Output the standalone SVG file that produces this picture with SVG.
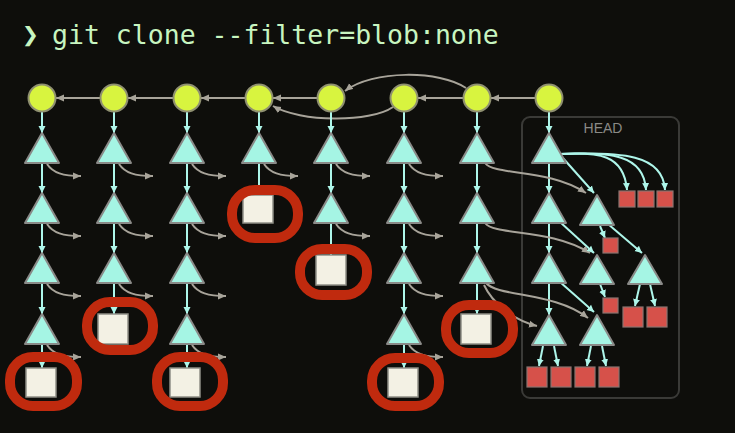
<svg xmlns="http://www.w3.org/2000/svg" width="735" height="433" viewBox="0 0 735 433">
<style>
.bg{fill:#0e0e0b}
.title{font-family:"DejaVu Sans Mono","Liberation Mono",monospace;font-size:26.5px;fill:#c8f5c0}
.chev{font-weight:bold;font-size:28px}
.commit{fill:#d8f43f;stroke:#8f9070;stroke-width:2}
.tree{fill:#a5f5e4;stroke:#8a8a88;stroke-width:2;stroke-linejoin:round}
.blob{fill:#f3f1e4;stroke:#8f8e86;stroke-width:1.5}
.ring{fill:none;stroke:#c02a0e;stroke-width:10}
.red{fill:#d6514a;stroke:#8a7470;stroke-width:1.2}
.cy{fill:none;stroke:#aef6ea;stroke-width:2;marker-end:url(#ac)}
.gr{fill:none;stroke:#a8a49a;stroke-width:2;marker-end:url(#ag)}
.headbox{fill:none;stroke:#3a3a37;stroke-width:2}
.headlbl{font-family:"Liberation Sans",Arial,sans-serif;font-size:14px;fill:#8a8a86}
</style>
<defs>
<marker id="ac" markerUnits="userSpaceOnUse" markerWidth="8" markerHeight="8" refX="7" refY="4" orient="auto"><path d="M0,0.5 L7,4 L0,7.5 z" fill="#aef6ea"/></marker>
<marker id="ag" markerUnits="userSpaceOnUse" markerWidth="9" markerHeight="8" refX="8" refY="4" orient="auto"><path d="M0,0.5 L8,4 L0,7.5 z" fill="#a8a49a"/></marker>
</defs>
<rect class="bg" x="0" y="0" width="735" height="433"/>
<text class="title" y="44"><tspan class="chev" x="22">❯</tspan><tspan x="52">git clone --filter=blob:none</tspan></text>

<g id="head">
<rect class="headbox" x="522" y="117" width="157" height="281" rx="8"/>
<text class="headlbl" x="603" y="133" text-anchor="middle">HEAD</text>
</g>

<g id="connectors">
<path class="gr" d="M535,98 L491,98"/>
<path class="gr" d="M463,98 L418,98"/>
<path class="gr" d="M317,98 L273,98"/>
<path class="gr" d="M245,98 L201,98"/>
<path class="gr" d="M173,98 L128,98"/>
<path class="gr" d="M100,98 L56,98"/>
<path class="gr" d="M466,88 C440,70 372,70 345,91"/>
<path class="gr" d="M393,107 C370,123 300,122 273,106"/>

<path class="cy" d="M42,112 L42,133"/><path class="cy" d="M42,163 L42,193"/><path class="cy" d="M42,223 L42,253"/><path class="cy" d="M42,283 L42,314"/><path class="cy" d="M42,344 L42,368"/>
<path class="cy" d="M114,112 L114,133"/><path class="cy" d="M114,163 L114,193"/><path class="cy" d="M114,223 L114,253"/><path class="cy" d="M114,283 L114,314"/>
<path class="cy" d="M187,112 L187,133"/><path class="cy" d="M187,163 L187,193"/><path class="cy" d="M187,223 L187,253"/><path class="cy" d="M187,283 L187,314"/><path class="cy" d="M187,344 L187,368"/>
<path class="cy" d="M259,112 L259,133"/><path class="cy" d="M259,163 L259,195"/>
<path class="cy" d="M331,112 L331,133"/><path class="cy" d="M331,163 L331,193"/><path class="cy" d="M331,223 L331,255"/>
<path class="cy" d="M404,112 L404,133"/><path class="cy" d="M404,163 L404,193"/><path class="cy" d="M404,223 L404,253"/><path class="cy" d="M404,283 L404,314"/><path class="cy" d="M404,344 L404,368"/>
<path class="cy" d="M477,112 L477,133"/><path class="cy" d="M477,163 L477,193"/><path class="cy" d="M477,223 L477,253"/><path class="cy" d="M477,283 L477,314"/>
<path class="cy" d="M549,112 L549,133"/><path class="cy" d="M549,163 L549,193"/><path class="cy" d="M549,223 L549,253"/><path class="cy" d="M549,283 L549,315"/>

<path class="gr" d="M47,164 C53,173 63,176 81,176"/><path class="gr" d="M47,224 C53,233 63,236 81,236"/><path class="gr" d="M47,284 C53,293 63,296 81,296"/><path class="gr" d="M47,345 C53,354 63,357 81,357"/>
<path class="gr" d="M119,164 C125,173 135,176 153,176"/><path class="gr" d="M119,224 C125,233 135,236 153,236"/><path class="gr" d="M119,284 C125,293 135,296 153,296"/>
<path class="gr" d="M192,164 C198,173 208,176 226,176"/><path class="gr" d="M192,224 C198,233 208,236 226,236"/><path class="gr" d="M192,284 C198,293 208,296 226,296"/><path class="gr" d="M192,345 C198,354 208,357 226,357"/>
<path class="gr" d="M264,164 C270,173 280,176 298,176"/>
<path class="gr" d="M336,164 C342,173 352,176 370,176"/><path class="gr" d="M336,224 C342,233 352,236 370,236"/>
<path class="gr" d="M409,164 C415,173 425,176 443,176"/><path class="gr" d="M409,224 C415,233 425,236 443,236"/><path class="gr" d="M409,284 C415,293 425,296 443,296"/><path class="gr" d="M409,345 C415,354 425,357 443,357"/>
<path class="gr" d="M485,163 C495,176 548,168 586,193"/>
<path class="gr" d="M485,223 C495,236 550,228 590,253"/>
<path class="gr" d="M486,283 C498,297 555,292 588,318"/>
<path class="gr" d="M484,285 C492,302 512,320 537,326"/>

<path class="cy" d="M562,157 L594,193"/>
<path class="cy" d="M560,154 C598,152 624,154 627,190"/>
<path class="cy" d="M560,154 C610,152 644,154 646,190"/>
<path class="cy" d="M560,154 C622,152 663,154 665,190"/>
<path class="cy" d="M600,226 L605,238"/>
<path class="cy" d="M608,224 L642,253"/>
<path class="cy" d="M560,222 L594,253"/>
<path class="cy" d="M600,284 L605,297"/>
<path class="cy" d="M640,284 L635,306"/>
<path class="cy" d="M650,284 L655,306"/>
<path class="cy" d="M560,282 L594,312"/>
<path class="cy" d="M543,346 L539,366"/>
<path class="cy" d="M554,346 L558,366"/>
<path class="cy" d="M591,346 L587,366"/>
<path class="cy" d="M602,346 L606,366"/>
</g>

<g id="c1"><circle class="commit" cx="42" cy="98" r="13.5"/></g>
<g id="c2"><circle class="commit" cx="114" cy="98" r="13.5"/></g>
<g id="c3"><circle class="commit" cx="187" cy="98" r="13.5"/></g>
<g id="c4"><circle class="commit" cx="259" cy="98" r="13.5"/></g>
<g id="c5"><circle class="commit" cx="331" cy="98" r="13.5"/></g>
<g id="c6"><circle class="commit" cx="404" cy="98" r="13.5"/></g>
<g id="c7"><circle class="commit" cx="477" cy="98" r="13.5"/></g>
<g id="c8"><circle class="commit" cx="549" cy="98" r="13.5"/></g>

<g id="t1_1"><polygon class="tree" points="42,133 59,163 25,163"/></g>
<g id="t1_2"><polygon class="tree" points="42,193 59,223 25,223"/></g>
<g id="t1_3"><polygon class="tree" points="42,253 59,283 25,283"/></g>
<g id="t1_4"><polygon class="tree" points="42,314 59,344 25,344"/></g>
<g id="t2_1"><polygon class="tree" points="114,133 131,163 97,163"/></g>
<g id="t2_2"><polygon class="tree" points="114,193 131,223 97,223"/></g>
<g id="t2_3"><polygon class="tree" points="114,253 131,283 97,283"/></g>
<g id="t3_1"><polygon class="tree" points="187,133 204,163 170,163"/></g>
<g id="t3_2"><polygon class="tree" points="187,193 204,223 170,223"/></g>
<g id="t3_3"><polygon class="tree" points="187,253 204,283 170,283"/></g>
<g id="t3_4"><polygon class="tree" points="187,314 204,344 170,344"/></g>
<g id="t4_1"><polygon class="tree" points="259,133 276,163 242,163"/></g>
<g id="t5_1"><polygon class="tree" points="331,133 348,163 314,163"/></g>
<g id="t5_2"><polygon class="tree" points="331,193 348,223 314,223"/></g>
<g id="t6_1"><polygon class="tree" points="404,133 421,163 387,163"/></g>
<g id="t6_2"><polygon class="tree" points="404,193 421,223 387,223"/></g>
<g id="t6_3"><polygon class="tree" points="404,253 421,283 387,283"/></g>
<g id="t6_4"><polygon class="tree" points="404,314 421,344 387,344"/></g>
<g id="t7_1"><polygon class="tree" points="477,133 494,163 460,163"/></g>
<g id="t7_2"><polygon class="tree" points="477,193 494,223 460,223"/></g>
<g id="t7_3"><polygon class="tree" points="477,253 494,283 460,283"/></g>
<g id="t8_1"><polygon class="tree" points="549,133 566,163 532,163"/></g>
<g id="t8_2"><polygon class="tree" points="549,193 566,223 532,223"/></g>
<g id="t8_3"><polygon class="tree" points="549,253 566,283 532,283"/></g>
<g id="t8_4"><polygon class="tree" points="549,315 566,345 532,345"/></g>
<g id="t8_s2"><polygon class="tree" points="597,195 614,225 580,225"/></g>
<g id="t8_s3a"><polygon class="tree" points="597,255 614,284 580,284"/></g>
<g id="t8_s3b"><polygon class="tree" points="645,255 662,284 628,284"/></g>
<g id="t8_s4"><polygon class="tree" points="597,315 614,345 580,345"/></g>

<g id="r1"><rect class="red" x="619" y="191" width="16" height="16"/></g>
<g id="r2"><rect class="red" x="638" y="191" width="16" height="16"/></g>
<g id="r3"><rect class="red" x="657" y="191" width="16" height="16"/></g>
<g id="r4"><rect class="red" x="603" y="238" width="15" height="15"/></g>
<g id="r5"><rect class="red" x="603" y="298" width="15" height="15"/></g>
<g id="r6"><rect class="red" x="623" y="307" width="20" height="20"/></g>
<g id="r7"><rect class="red" x="647" y="307" width="20" height="20"/></g>
<g id="r8"><rect class="red" x="527" y="367" width="20" height="20"/></g>
<g id="r9"><rect class="red" x="551" y="367" width="20" height="20"/></g>
<g id="r10"><rect class="red" x="575" y="367" width="20" height="20"/></g>
<g id="r11"><rect class="red" x="599" y="367" width="20" height="20"/></g>

<g id="b1"><rect class="blob" x="26" y="368" width="30" height="29"/><rect class="ring" x="10" y="357" width="67" height="49" rx="23"/></g>
<g id="b2"><rect class="blob" x="98" y="314" width="30" height="30"/><rect class="ring" x="87" y="302" width="66" height="48" rx="23"/></g>
<g id="b3"><rect class="blob" x="170" y="368" width="30" height="29"/><rect class="ring" x="157" y="357" width="66" height="49" rx="23"/></g>
<g id="b4"><rect class="blob" x="243" y="195" width="30" height="28"/><rect class="ring" x="232" y="190" width="66" height="48" rx="23"/></g>
<g id="b5"><rect class="blob" x="316" y="255" width="30" height="30"/><rect class="ring" x="300" y="249" width="67" height="46" rx="22"/></g>
<g id="b6"><rect class="blob" x="388" y="368" width="30" height="29"/><rect class="ring" x="372" y="358" width="67" height="48" rx="23"/></g>
<g id="b7"><rect class="blob" x="461" y="314" width="30" height="30"/><rect class="ring" x="446" y="305" width="67" height="48" rx="23"/></g>
</svg>
